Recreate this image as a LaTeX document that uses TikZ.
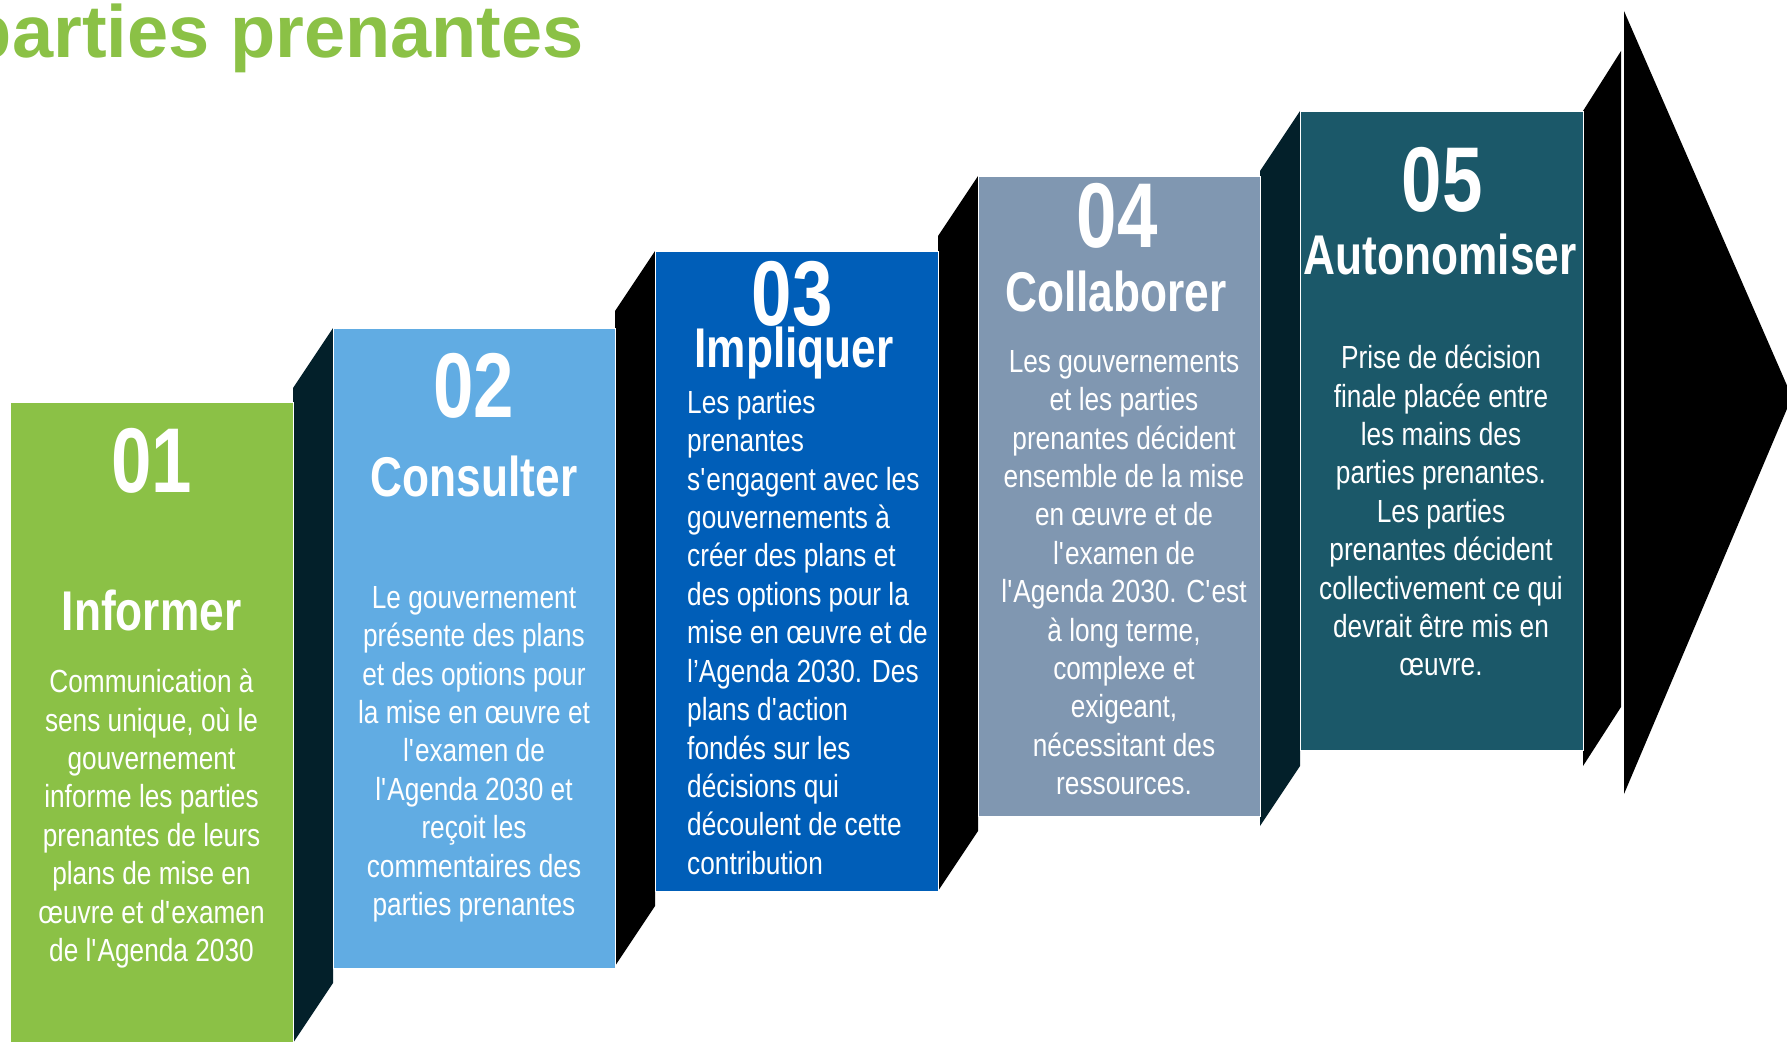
\documentclass[tikz,border=0pt]{standalone}
\usepackage{fontspec}
\setmainfont{Liberation Sans}
\newfontfamily\condfont{Liberation Sans}[FakeStretch=0.82]
\newfontfamily\condhead{Liberation Sans}[FakeStretch=0.79]
\newcommand\apo{\textquotesingle}
\definecolor{cgreen}{HTML}{8BC146}
\definecolor{clight}{HTML}{61ACE3}
\definecolor{cblue}{HTML}{005EB8}
\definecolor{cgrey}{HTML}{8097B1}
\definecolor{cteal}{HTML}{1B5869}
\definecolor{cdark}{HTML}{03202A}
\tikzset{
  box/.style={draw=white, line width=0.8pt},
  band/.style={draw=none},
  numtxt/.style={anchor=base, inner sep=0, text=white, font=\condhead\bfseries\fontsize{92}{92}\selectfont},
  headtxt/.style={anchor=base, inner sep=0, text=white, font=\condhead\bfseries\fontsize{56}{56}\selectfont},
  bodytxt/.style={anchor=north, inner sep=0, text=white, align=center, font=\condfont\fontsize{32}{38.4}\selectfont},
}
\begin{document}
\begin{tikzpicture}[x=1pt,y=-1pt]
\useasboundingbox (0,0) rectangle (1787,1041);
% title
\node[anchor=base east, inner sep=0, text=cgreen, font=\bfseries\fontsize{74}{74}\selectfont] (title) at (584,57) {parties prenantes};
% bands
\fill[cdark] (293,388) -- (333,328) -- (333,983) -- (293,1043) -- cycle;
\fill[black] (615,311) -- (655,251) -- (655,906) -- (615,966) -- cycle;
\fill[black] (938,236) -- (978,176) -- (978,831) -- (938,891) -- cycle;
\fill[cdark] (1260,171) -- (1300,111) -- (1300,766) -- (1260,826) -- cycle;
\fill[black] (1583,111) -- (1621,51) -- (1621,707) -- (1583,766) -- cycle;
% arrow head
\fill[black] (1624,11) -- (1792,397) -- (1624,794) -- cycle;
% boxes
\fill[cgreen,box] (10,402) rectangle (293,1045);
\fill[clight,box] (333,328) rectangle (615,968);
\fill[cblue,box] (655,251) rectangle (938,891);
\fill[cgrey,box] (978,176) rectangle (1260,816);
\fill[cteal,box] (1300,111) rectangle (1583,750);
% box 1
\node[numtxt] (n1) at (151.5,492) {01};
\node[headtxt] (h1) at (151.5,630) {Informer};
\node[bodytxt] (b1) at (151.5,669) {Communication à\\sens unique, où le\\gouvernement\\informe les parties\\prenantes de leurs\\plans de mise en\\œuvre et d\apo examen\\de l\apo Agenda 2030};
% box 2
\node[numtxt] (n2) at (474,417) {02};
\node[headtxt] (h2) at (474,496) {Consulter};
\node[bodytxt] (b2) at (474,586) {Le gouvernement\\présente des plans\\et des options pour\\la mise en œuvre et\\l\apo examen de\\l\apo Agenda 2030 et\\reçoit les\\commentaires des\\parties prenantes};
% box 3
\node[numtxt] (n3) at (792,325) {03};
\node[headtxt] (h3) at (794,367) {Impliquer};
\node[bodytxt, anchor=north west, align=left] (b3) at (687,390) {Les parties\\prenantes\\s\apo engagent avec les\\gouvernements à\\créer des plans et\\des options pour la\\mise en œuvre et de\\l’Agenda 2030. Des\\plans d\apo action\\fondés sur les\\décisions qui\\découlent de cette\\contribution};
% box 4
\node[numtxt] (n4) at (1117,247) {04};
\node[headtxt] (h4) at (1116,311) {Collaborer};
\node[bodytxt] (b4) at (1124,350) {Les gouvernements\\et les parties\\prenantes décident\\ensemble de la mise\\en œuvre et de\\l\apo examen de\\l\apo Agenda 2030. C\apo est\\à long terme,\\complexe et\\exigeant,\\nécessitant des\\ressources.};
% box 5
\node[numtxt] (n5) at (1442,211) {05};
\node[headtxt] (h5) at (1440,274) {Autonomiser};
\node[bodytxt] (b5) at (1441,345) {Prise de décision\\finale placée entre\\les mains des\\parties prenantes.\\Les parties\\prenantes décident\\collectivement ce qui\\devrait être mis en\\œuvre.};
\end{tikzpicture}
\end{document}
